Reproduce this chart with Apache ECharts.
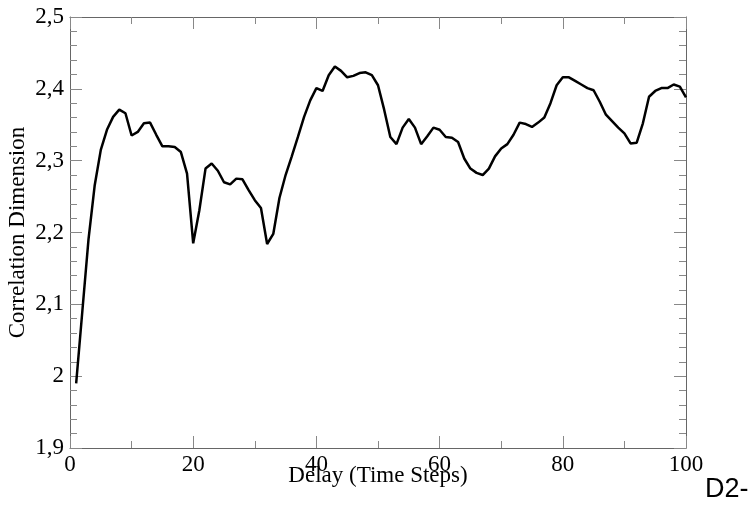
<!DOCTYPE html>
<html>
<head>
<meta charset="utf-8">
<script src="https://cdn.jsdelivr.net/npm/echarts@6/dist/echarts.min.js"></script>
<style>
  html, body { margin: 0; padding: 0; background: #fff; }
  #chart { width: 756px; height: 506px; }
</style>
</head>
<body>
<div id="chart"></div>
<script>
// delay steps 1..100 (x positions of the samples)
const delays = Array.from({ length: 100 }, (_, i) => i + 1)

// correlation dimension, one per delay
const corrDim = [
  1.990, 2.090, 2.190, 2.265, 2.315, 2.343, 2.361, 2.371, 2.366, 2.335,
  2.340, 2.352, 2.353, 2.336, 2.320, 2.320, 2.319, 2.312, 2.282, 2.185,
  2.231, 2.289, 2.296, 2.286, 2.270, 2.267, 2.275, 2.274, 2.259, 2.245,
  2.234, 2.184, 2.198, 2.248, 2.280, 2.306, 2.333, 2.361, 2.384, 2.401,
  2.397, 2.419, 2.431, 2.425, 2.416, 2.418, 2.422, 2.423, 2.419, 2.405,
  2.371, 2.333, 2.323, 2.346, 2.358, 2.346, 2.323, 2.334, 2.346, 2.343,
  2.333, 2.332, 2.326, 2.303, 2.289, 2.283, 2.280, 2.289, 2.306, 2.317,
  2.323, 2.336, 2.353, 2.351, 2.347, 2.353, 2.360, 2.380, 2.405, 2.416,
  2.416, 2.411, 2.406, 2.401, 2.398, 2.382, 2.364, 2.355, 2.346, 2.338,
  2.324, 2.325, 2.352, 2.389, 2.397, 2.401, 2.401, 2.406, 2.403, 2.388
]

const serif = '"Liberation Serif", "DejaVu Serif", serif'
const axisColor = '#666'
const tickColor = '#888'

// y labels use decimal comma: 2,5 / 2 / 1,9
function commaLabel(v) {
  const r = Math.round(v * 10) / 10
  return String(r).replace('.', ',')
}

const chart = echarts.init(document.getElementById('chart'))

const xCommon = {
  type: 'value',
  min: 0,
  max: 100,
  interval: 20,
  axisLine: { show: true, onZero: false, lineStyle: { color: axisColor, width: 1 } },
  axisTick: { show: true, inside: true, length: 12, lineStyle: { color: tickColor, width: 1 } },
  minorTick: { show: true, splitNumber: 2, length: 7, lineStyle: { color: tickColor, width: 1 } },
  splitLine: { show: false },
  minorSplitLine: { show: false }
}

const yCommon = {
  type: 'value',
  min: 1.9,
  max: 2.5,
  interval: 0.1,
  axisLine: { show: true, onZero: false, lineStyle: { color: axisColor, width: 1 } },
  axisTick: { show: true, inside: true, length: 12, lineStyle: { color: tickColor, width: 1 } },
  minorTick: { show: true, splitNumber: 5, length: 7, lineStyle: { color: tickColor, width: 1 } },
  splitLine: { show: false },
  minorSplitLine: { show: false }
}

chart.setOption({
  animation: false,
  backgroundColor: '#fff',
  grid: { left: 70, right: 70, top: 17, bottom: 58, containLabel: false, outerBoundsMode: 'none' },
  xAxis: [
    Object.assign({}, xCommon, {
      position: 'bottom',
      name: 'Delay (Time Steps)',
      nameLocation: 'middle',
      nameGap: 16,
      nameMoveOverlap: false,
      nameTextStyle: { fontFamily: serif, fontSize: 23, color: '#000' },
      axisLabel: { show: true, margin: 5, fontFamily: serif, fontSize: 23, color: '#000' }
    }),
    Object.assign({}, xCommon, { position: 'top', axisLabel: { show: false } })
  ],
  yAxis: [
    Object.assign({}, yCommon, {
      position: 'left',
      name: 'Correlation Dimension',
      nameLocation: 'middle',
      nameRotate: 90,
      nameGap: 41,
      nameMoveOverlap: false,
      nameTextStyle: { fontFamily: serif, fontSize: 23, color: '#000' },
      axisLabel: { show: true, margin: 6, fontFamily: serif, fontSize: 23, color: '#000', formatter: commaLabel }
    }),
    Object.assign({}, yCommon, { position: 'right', axisLabel: { show: false } })
  ],
  graphic: [{
    type: 'text',
    left: 705,
    top: 476,
    style: { text: 'D2-', font: '27px "Liberation Sans", Arial, sans-serif', fill: '#000' }
  }],
  series: [{
    type: 'line',
    xAxisIndex: 0,
    yAxisIndex: 0,
    data: delays.map((d, i) => [d, corrDim[i]]),
    showSymbol: false,
    smooth: false,
    lineStyle: { color: '#000', width: 2.5 }
  }]
})
</script>
</body>
</html>
